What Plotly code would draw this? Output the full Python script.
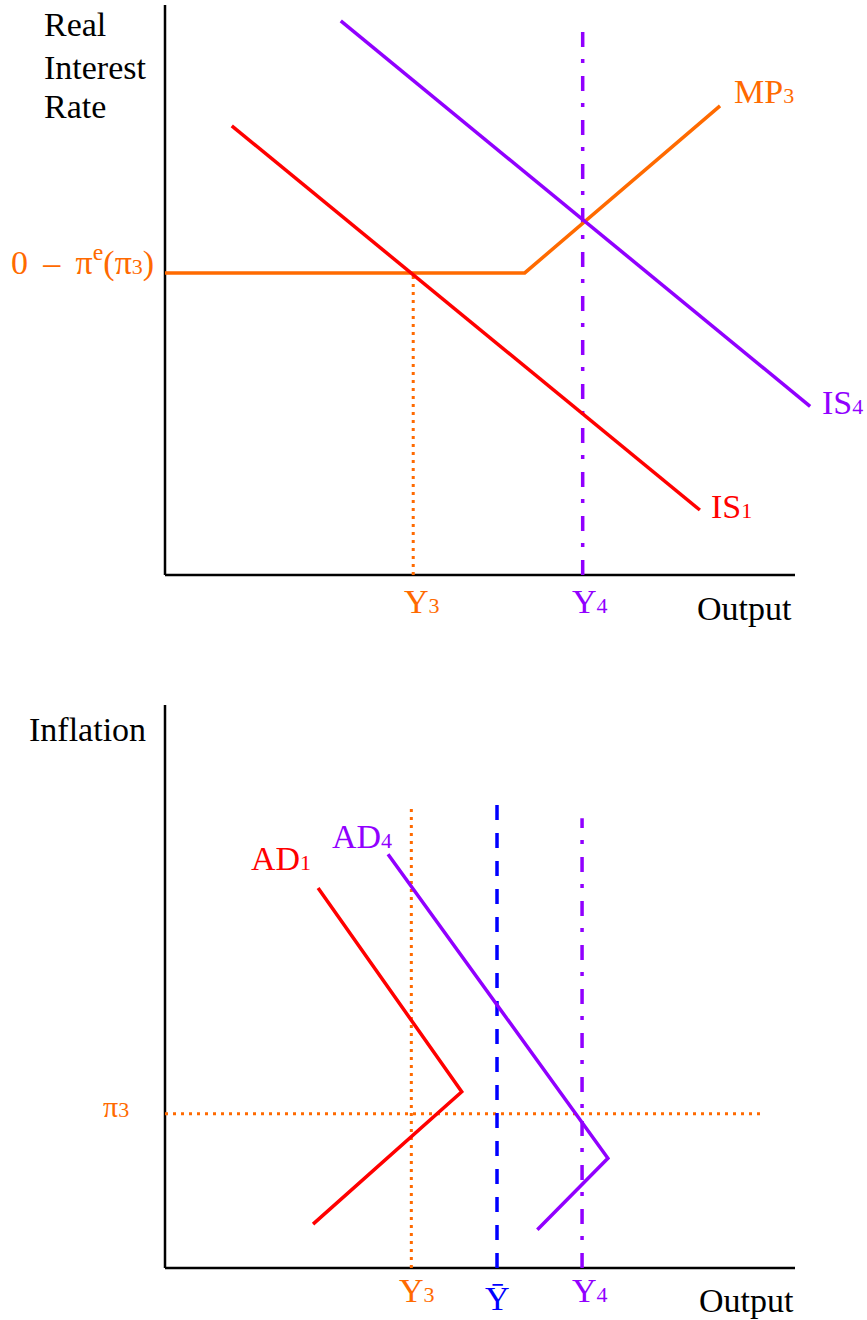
import plotly.graph_objects as go

# ---------------- data (axis units: 0..100 along each drawn axis) ----------------
# Top panel: Real interest rate vs Output
is1_x = [10.6, 84.9]
is1_y = [78.8, 11.4]
is4_x = [27.9, 102.4]
is4_y = [97.2, 29.6]
mp3_x = [0.0, 57.1, 88.1]
mp3_y = [53.0, 53.0, 82.3]
top_y3_x = 39.4
top_y3_top = 53.0
top_y4_x = 66.3
top_y4_top = 96.5

# Bottom panel: Inflation vs Output
ad1_x = [24.3, 47.1, 23.5]
ad1_y = [67.5, 31.3, 7.8]
ad4_x = [35.4, 70.3, 59.1]
ad4_y = [73.5, 19.5, 6.8]
bot_y3_x = 39.1
bot_y3_top = 82.4
ybar_x = 52.7
ybar_top = 82.6
bot_y4_x = 66.2
bot_y4_top = 79.9
pi3_y = 27.4
pi3_x_end = 94.8

# ---------------- styling ----------------
W, H = 867, 1320
RED = "#FF0000"
PURPLE = "#9100FF"
ORANGE = "#FF6A00"
BLUE = "#0000FF"
FONT = "Liberation Serif"
LW = 3.5
DOT = "3px,5px"
DASHDOT = "15px,13px,4px,12px"
DASH = "15px,13px"

fig = go.Figure()


def line(x, y, color, width=LW, dash="solid", ax=1):
    fig.add_trace(go.Scatter(
        x=x, y=y, mode="lines",
        line=dict(color=color, width=width, dash=dash),
        xaxis="x" if ax == 1 else "x2",
        yaxis="y" if ax == 1 else "y2",
        hoverinfo="skip", showlegend=False))


# top panel
line([0, 0], [0, 100], "black", 2.5, ax=1)
line([0, 100], [0, 0], "black", 2.5, ax=1)
line([top_y3_x, top_y3_x], [0, top_y3_top], ORANGE, 3, DOT, ax=1)
line([top_y4_x, top_y4_x], [0, top_y4_top], PURPLE, 3.5, DASHDOT, ax=1)
line(mp3_x, mp3_y, ORANGE, ax=1)
line(is1_x, is1_y, RED, ax=1)
line(is4_x, is4_y, PURPLE, ax=1)

# bottom panel
line([0, 0], [0, 100], "black", 2.5, ax=2)
line([0, 100], [0, 0], "black", 2.5, ax=2)
line([0, pi3_x_end], [pi3_y, pi3_y], ORANGE, 3, DOT, ax=2)
line([bot_y3_x, bot_y3_x], [0, bot_y3_top], ORANGE, 3, DOT, ax=2)
line([ybar_x, ybar_x], [0, ybar_top], BLUE, 3.5, DASH, ax=2)
line([bot_y4_x, bot_y4_x], [0, bot_y4_top], PURPLE, 3.5, DASHDOT, ax=2)
line(ad1_x, ad1_y, RED, ax=2)
line(ad4_x, ad4_y, PURPLE, ax=2)

# ---------------- labels (pixel placement -> paper coords) ----------------
S = 34
SUB = "<span style='font-size:22px'>%s</span>"


def label(text, left_px, baseline_px, color, size=S, anchor="left"):
    cy = baseline_px - 0.3375 * size
    fig.add_annotation(
        x=left_px / W, y=1 - cy / H, xref="paper", yref="paper",
        text=text, showarrow=False, xanchor=anchor, yanchor="middle",
        font=dict(family=FONT, size=size, color=color), borderpad=0)


label("Real", 43, 36, "black")
label("Interest", 43, 79, "black")
label("Rate", 43, 118, "black")
label("0\u00a0\u2009–\u00a0\u2009π<sup>e</sup>(π" + SUB % "3" + ")", 10, 272, ORANGE)
label("MP" + SUB % "3", 733, 103, ORANGE)
label("IS" + SUB % "4", 821, 414, PURPLE)
label("IS" + SUB % "1", 710, 518, RED)
label("Y" + SUB % "3", 403, 613, ORANGE)
label("Y" + SUB % "4", 571, 613, PURPLE)
label("Output", 696, 620, "black")

label("Inflation", 28, 741, "black")
label("AD" + SUB % "1", 250, 870, RED)
label("AD" + SUB % "4", 331, 848, PURPLE)
label("<span style='font-size:30px'>π</span>3", 102, 1114, ORANGE, size=22)
label("Y" + SUB % "3", 398, 1302, ORANGE)
label("Ȳ", 497, 1310, BLUE, anchor="center")
label("Y" + SUB % "4", 571, 1302, PURPLE)
label("Output", 698, 1312, "black")

# ---------------- axes: full-canvas mapping ----------------
xr = [-165 / 6.3, (W - 165) / 6.3]
ax_common = dict(visible=False, showgrid=False, zeroline=False, fixedrange=True)
fig.update_layout(
    width=W, height=H,
    margin=dict(l=0, r=0, t=0, b=0),
    paper_bgcolor="white", plot_bgcolor="white",
    showlegend=False,
    xaxis=dict(range=xr, domain=[0, 1], anchor="y", **ax_common),
    yaxis=dict(range=[(575 - 660) / 5.7, 575 / 5.7], domain=[0.5, 1], anchor="x", **ax_common),
    xaxis2=dict(range=xr, domain=[0, 1], anchor="y2", **ax_common),
    yaxis2=dict(range=[(1268 - 1320) / 5.63, (1268 - 660) / 5.63], domain=[0, 0.5], anchor="x2", **ax_common),
)

fig.write_html(
    "out.html",
    config={"displayModeBar": False},
    post_script="document.body.style.margin='0';document.body.style.overflow='hidden';",
)
